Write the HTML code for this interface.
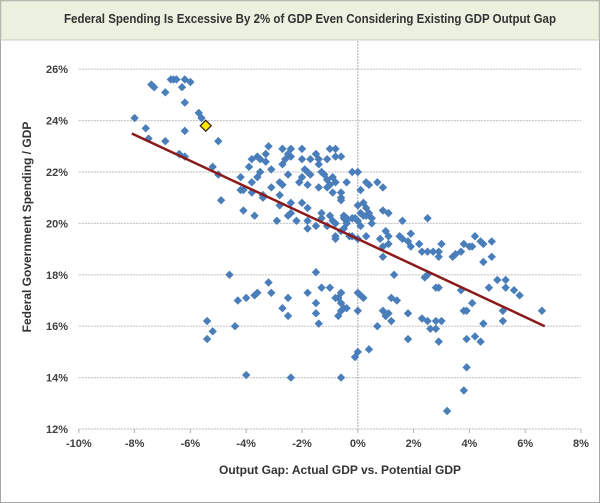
<!DOCTYPE html>
<html><head><meta charset="utf-8"><style>
html,body{margin:0;padding:0;background:#fff}
svg{display:block;font-family:"Liberation Sans",sans-serif}
</style></head><body>
<svg id="chart" width="600" height="503" viewBox="0 0 600 503">
<rect x="0.5" y="0.5" width="599" height="502" fill="#fff" stroke="#a6a6a6"/>
<rect x="1" y="1" width="598" height="39" fill="#ebf1de" stroke="#c8cfbe"/>
<text x="310" y="23" text-anchor="middle" font-size="13" font-weight="bold" fill="#333" textLength="492" lengthAdjust="spacingAndGlyphs">Federal Spending Is Excessive By 2% of GDP Even Considering Existing GDP Output Gap</text>
<g id="grid"></g>
<g id="axes"></g>
<g id="marks"></g>
<text x="340" y="474" text-anchor="middle" font-size="12" font-weight="bold" fill="#333">Output Gap:  Actual GDP vs. Potential GDP</text>
<text x="31" y="227" text-anchor="middle" font-size="12" font-weight="bold" fill="#333" transform="rotate(-90 31 227)">Federal Government Spending / GDP</text>
</svg>
<script>
const xTicks=[-10,-8,-6,-4,-2,0,2,4,6,8];
const yTicks=[12,14,16,18,20,22,24,26];
const gapX=[-8.0,-7.6,-7.5,-7.4,-7.3,-6.9,-6.7,-6.6,-6.5,-6.2,-6.3,-6.0,-6.2,-6.9,-6.2,-6.4,-6.2,-5.7,-5.6,-5.0,-5.2,-5.0,-4.9,-5.4,-5.4,-5.2,-4.6,-4.4,-4.3,-4.0,-4.0,-3.6,-3.2,-3.1,
-4.1,-3.8,-3.6,-3.5,-4.1,-3.7,-3.5,-3.3,-3.4,-2.8,
-3.2,-2.7,-2.4,-2.0,-2.5,-2.6,-2.4,-3.6,-3.8,-3.3,-3.9,-3.1,-2.7,-2.0,-1.7,-1.5,-1.4,-1.4,-1.1,-1.0,-0.8,-0.8,-0.6,
-1.9,-1.8,-1.7,-2.0,-1.8,-2.1,-1.3,-1.2,-1.1,-1.0,-0.9,-0.8,-1.1,-0.9,-0.6,-0.6,
-2.8,-2.7,-2.5,-3.1,-4.2,-4.2,-3.8,-3.4,-2.8,-2.4,-2.4,-2.5,-2.0,-1.8,-2.2,-1.8,-2.9,
-1.4,-1.3,-1.3,-1.0,-0.9,-0.8,-0.5,-0.4,-0.4,-0.2,0.0,-0.6,-0.8,-0.3,-1.8,-1.5,-1.1,
-0.2,0.0,-0.4,0.0,0.2,0.3,0.1,0.3,
0.3,0.4,0.7,0.9,0.1,-0.6,0.4,0.5,0.2,0.9,1.1,-0.5,-0.4,-0.1,0.1,-0.2,0.0,-0.5,0.3,0.5,1.6,2.5,
1.0,1.1,1.5,1.9,1.8,1.9,2.2,1.6,0.8,1.1,0.9,
2.3,2.5,2.7,2.9,3.0,2.9,3.4,3.5,3.7,3.8,4.0,4.1,4.2,4.4,4.5,4.8,4.8,4.5,
0.9,2.5,1.3,2.9,4.7,5.0,5.3,5.3,5.6,5.8,3.7,6.6,5.2,5.2,4.5,3.8,3.9,4.1,2.8,2.4,
3.9,4.2,4.4,3.9,3.8,3.2,2.9,2.3,2.5,2.8,3.0,2.6,2.8,1.8,1.8,0.9,1.0,1.1,1.2,1.0,1.2,1.4,0.7,0.4,0.0,-0.1,
0.0,0.1,0.2,0.0,-0.6,-0.6,-0.7,-0.8,-0.6,-0.4,-0.5,-0.6,-0.7,-1.0,-1.3,-1.5,-1.8,-1.5,-1.5,-1.4,-0.6,-2.5,-2.7,-2.5,-2.4,-3.7,-0.8];
const spendY=[24.1,23.7,23.3,25.4,25.3,25.1,25.6,25.6,25.6,25.6,25.3,25.5,24.7,23.2,23.6,22.7,22.6,24.3,24.1,23.2,22.2,21.9,20.9,16.2,15.5,15.8,18.0,16.0,17.0,17.1,14.1,17.3,17.7,17.3,
21.3,21.6,21.8,22.0,20.5,20.3,22.5,22.7,21.1,21.1,
23.0,22.9,22.9,22.9,22.7,22.5,22.6,22.6,22.5,22.4,22.2,22.1,22.3,22.5,22.5,22.7,22.5,22.3,22.5,22.9,22.9,22.6,22.6,
22.1,22.0,21.9,21.8,21.5,21.6,22.0,21.9,21.7,21.5,21.8,21.6,21.4,21.2,21.2,20.9,
21.6,21.5,21.9,21.4,21.8,21.3,21.2,21.0,20.7,20.8,20.4,20.3,20.8,20.6,20.1,20.1,20.1,
21.4,20.4,20.2,20.3,20.1,20.0,20.3,20.2,20.0,20.2,20.1,19.7,19.5,19.5,19.8,19.9,19.9,
22.0,22.0,21.6,20.7,20.8,20.6,20.4,20.3,
21.6,21.5,21.6,21.4,21.3,21.0,20.4,20.2,20.3,20.5,20.4,20.2,20.1,20.2,19.9,19.5,19.4,19.8,19.5,20.0,20.1,20.2,
19.7,19.5,19.5,19.6,19.3,19.1,19.2,19.4,19.4,19.2,19.1,
18.9,18.9,18.9,18.9,19.2,18.7,18.7,18.8,18.9,19.2,19.1,19.1,19.5,19.3,19.2,19.3,18.7,18.5,
18.7,18.0,18.0,17.5,17.5,17.8,17.8,17.5,17.4,17.2,17.4,16.6,16.6,16.2,16.1,16.6,16.6,16.9,17.5,17.9,
15.5,15.6,15.4,14.4,13.5,12.7,15.4,16.3,16.2,16.2,16.2,15.9,15.9,15.5,16.5,16.6,16.4,16.5,16.2,16.4,17.1,17.0,16.0,15.1,15.0,14.8,
17.3,17.2,17.1,16.6,17.3,17.3,17.1,17.1,16.9,16.7,16.7,16.6,16.4,17.5,17.5,18.1,17.3,16.9,16.5,16.1,14.0,17.1,16.7,16.4,14.0,17.2,19.4];
const trendX=[-8.1,6.7];
const trendY=[23.5,16.0];
const highlightX=[-5.45];
const highlightY=[23.8];

const NS='http://www.w3.org/2000/svg';
const X0=78.8,X1=581,Y0=429,Y1=69.2;
function sx(v){return X0+(v-xTicks[0])/(xTicks[xTicks.length-1]-xTicks[0])*(X1-X0);}
function sy(v){return Y0-(v-yTicks[0])/(yTicks[yTicks.length-1]-yTicks[0])*(Y0-Y1);}
function mk(tag,attrs,parent){const e=document.createElementNS(NS,tag);for(const k in attrs)e.setAttribute(k,attrs[k]);parent.appendChild(e);return e;}
const grid=document.getElementById('grid'),axes=document.getElementById('axes'),marks=document.getElementById('marks');

yTicks.forEach(t=>{
  const l=mk('line',{x1:X0,x2:X1,y1:sy(t),y2:sy(t),stroke:'#c8c8c8','stroke-dasharray':'2,1','stroke-width':1.2},grid);
  
  
  const tx=mk('text',{x:68,y:sy(t)+4,'text-anchor':'end','font-size':11,'font-weight':'bold',fill:'#404040'},axes);
  tx.textContent=t+'%';
  
  
});
xTicks.forEach(t=>{
  const tk=mk('line',{x1:sx(t),x2:sx(t),y1:Y0,y2:Y0+4,stroke:'#b0b0b0'},axes);
  
  
  const tx=mk('text',{x:sx(t),y:447,'text-anchor':'middle','font-size':11,'font-weight':'bold',fill:'#404040'},axes);
  tx.textContent=t+'%';
  
  
});
const vz=mk('line',{x1:sx(0),x2:sx(0),y1:41,y2:Y0,stroke:'#b8b8b8','stroke-dasharray':'2,1','stroke-width':1.2},axes);



const r=4.2;
gapX.forEach((v,i)=>{
  const cx=sx(v),cy=sy(spendY[i]);
  const p=mk('polygon',{points:`${cx},${cy-r} ${cx+r},${cy} ${cx},${cy+r} ${cx-r},${cy}`,fill:'#4a7ebb'},marks);
  
  
});
const tl=mk('line',{x1:sx(trendX[0]),y1:sy(trendY[0]),x2:sx(trendX[1]),y2:sy(trendY[1]),stroke:'#8b1a1a','stroke-width':2.5},marks);


highlightX.forEach((v,i)=>{
  const cx=sx(v),cy=sy(highlightY[i]),R=5.5;
  const p=mk('polygon',{points:`${cx},${cy-R} ${cx+R},${cy} ${cx},${cy+R} ${cx-R},${cy}`,fill:'#ffe600',stroke:'#3a2a10','stroke-width':1.3},marks);
  
  
});
</script>
</body></html>
